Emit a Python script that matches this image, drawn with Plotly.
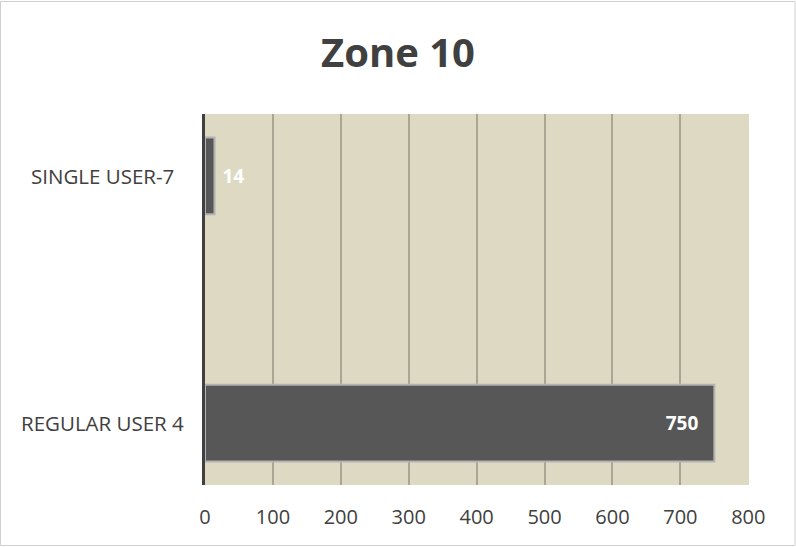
import plotly.graph_objects as go

categories = ["SINGLE USER-7", "REGULAR USER 4"]
values = [14, 750]
x_ticks = [0, 100, 200, 300, 400, 500, 600, 700, 800]
title_text = "Zone 10"

W, H = 796, 547
L, R, T, B = 205, 47, 114, 62
pw, ph = W - L - R, H - T - B

def px_x(x):
    return (x - L) / pw

def px_y(y):
    return (H - B - y) / ph

fig = go.Figure()
fig.add_trace(go.Bar(
    x=values,
    y=categories,
    orientation="h",
    width=0.31,
    marker=dict(color="#575757", line=dict(color="#b3b3b3", width=2)),
    text=[str(v) for v in values],
    textposition=["outside", "inside"],
    insidetextanchor="end",
    texttemplate=[" %{text}", "%{text}  \u2009"],
    textfont=dict(family="Open Sans", size=19, color="white", weight="bold"),
    outsidetextfont=dict(family="Open Sans", size=19, color="white", weight="bold"),
    cliponaxis=False,
    hoverinfo="skip",
))

for c in categories:
    fig.add_annotation(
        x=px_x(102), xref="paper", y=c, yref="y",
        text=c, showarrow=False, xanchor="center", yanchor="middle",
        font=dict(family="Open Sans", size=20.5, color="#404040"),
    )

fig.add_shape(
    type="rect", xref="paper", yref="paper",
    x0=px_x(0.5), x1=px_x(795), y0=px_y(545.5), y1=px_y(1.5),
    line=dict(color="#d0d0d0", width=1), fillcolor="rgba(0,0,0,0)", layer="below",
)

fig.update_layout(
    width=W, height=H,
    margin=dict(l=L, r=R, t=T, b=B),
    paper_bgcolor="white",
    plot_bgcolor="#ddd9c3",
    showlegend=False,
    title=dict(
        text=title_text, x=0.5, xref="container", xanchor="center",
        y=1 - 53 / H, yref="container", yanchor="middle",
        font=dict(family="Open Sans", size=40, color="#404040", weight="bold"),
    ),
    xaxis=dict(
        range=[0, 801], tickvals=x_ticks, ticktext=[str(t) for t in x_ticks],
        showgrid=True, gridcolor="#a9a694", gridwidth=1.5,
        zeroline=False, showline=False,
        ticks="outside", ticklen=14, tickcolor="rgba(0,0,0,0)",
        tickfont=dict(family="Open Sans", size=20, color="#404040"),
    ),
    yaxis=dict(
        range=[1.25, -0.25], showticklabels=False,
        showline=True, linecolor="#404040", linewidth=3,
        showgrid=False, zeroline=False,
    ),
)

fig.write_html(
    "out.html",
    config={"displayModeBar": False},
    post_script="document.body.style.margin='0';document.body.style.padding='0';",
)
